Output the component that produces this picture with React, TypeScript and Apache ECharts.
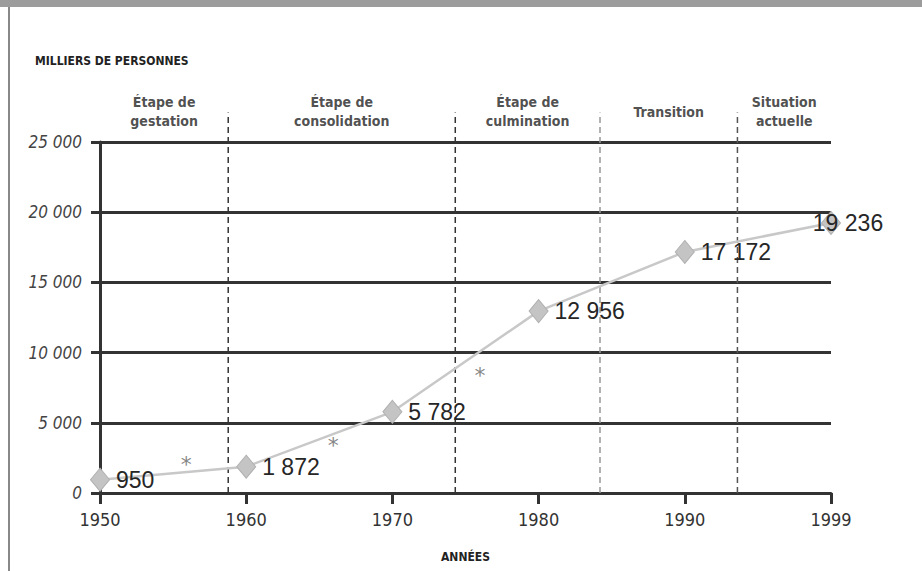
import React, { useEffect, useRef } from "react";
import * as echarts from "echarts";

const years = ["1950", "1960", "1970", "1980", "1990", "1999"];
const persons = [950, 1872, 5782, 12956, 17172, 19236];
// asterisk notes: [x position in year-index units, value]
const asteriskPoints = [
  [0.59, 2000],
  [1.595, 3350],
  [2.6, 8350],
];
// phase boundaries in year-index units
const phaseBounds = [0, 0.877, 2.43, 3.42, 4.36, 5];
const phaseNames = [
  "Étape de\ngestation",
  "Étape de\nconsolidation",
  "Étape de\nculmination",
  "Transition",
  "Situation\nactuelle",
];
const yTicks = [0, 5000, 10000, 15000, 20000, 25000];

const fmt = (v: number) =>
  String(v).replace(/\B(?=(\d{3})+(?!\d))/g, " ");

const COND = "'Liberation Sans Narrow', 'DejaVu Sans Condensed', sans-serif";
const dashColors = ["#333", "#333", "#999", "#555"];

export default function App() {
  const ref = useRef<HTMLDivElement>(null);
  useEffect(() => {
    if (!ref.current) return;
    const chart = echarts.init(ref.current, undefined, { renderer: "svg" });

    const dashSeries = phaseBounds.slice(1, -1).map((x, i) => ({
      type: "line",
      data: [
        [x, 0],
        [x, 27100],
      ],
      symbol: "none",
      clip: false,
      silent: true,
      z: 1,
      lineStyle: { color: dashColors[i], width: 1.5, type: [6, 4] },
    }));

    const phaseData = phaseNames.map((name, i) => ({
      value: [(phaseBounds[i] + phaseBounds[i + 1]) / 2, 27150],
      name,
    }));

    chart.setOption({
      animation: false,
      backgroundColor: "#fff",
      title: {
        text: "MILLIERS DE PERSONNES",
        left: 30,
        top: 50,
        textStyle: {
          fontFamily: COND,
          fontSize: 12,
          fontWeight: "bold",
          color: "#222",
        },
      },
      graphic: [
        {
          type: "rect",
          shape: { x: 0, y: 0, width: 922, height: 7 },
          style: { fill: "#9c9c9c" },
          silent: true,
        },
        {
          type: "line",
          shape: { x1: 9, y1: 7, x2: 9, y2: 571 },
          style: { stroke: "#888", lineWidth: 2 },
          silent: true,
        },
      ],
      grid: { left: 100, right: 91, top: 142, bottom: 78 },
      xAxis: {
        type: "value",
        min: 0,
        max: years.length - 1,
        interval: 1,
        name: "ANNÉES",
        nameLocation: "middle",
        nameGap: 58,
        nameTextStyle: {
          fontFamily: COND,
          fontSize: 12,
          fontWeight: "bold",
          color: "#222",
        },
        axisLine: { show: true, lineStyle: { color: "#333", width: 3 } },
        axisTick: { show: true, length: 11, lineStyle: { color: "#333", width: 3 } },
        splitLine: { show: false },
        axisLabel: {
          formatter: (v: number) => years[Math.round(v)] ?? "",
          fontFamily: COND,
          fontSize: 18,
          color: "#333",
          margin: 17,
        },
      },
      yAxis: {
        type: "value",
        min: 0,
        max: 25000,
        interval: 5000,
        axisLine: { show: true, lineStyle: { color: "#333", width: 3 } },
        axisTick: { show: true, length: 9, lineStyle: { color: "#333", width: 3 } },
        splitLine: { show: true, lineStyle: { color: "#333", width: 3 } },
        axisLabel: {
          formatter: (v: number) => (yTicks.includes(v) ? fmt(v) : ""),
          fontFamily: COND,
          fontStyle: "italic",
          fontSize: 17,
          color: "#444",
          margin: 18,
        },
      },
      series: [
        ...dashSeries,
        {
          type: "line",
          data: persons.map((v, i) => ({
            value: [i, v],
            label:
              i === persons.length - 1
                ? { position: "inside", offset: [17, 0] }
                : undefined,
          })),
          symbol: "diamond",
          symbolSize: [19, 23],
          z: 5,
          lineStyle: { color: "#c8c8c8", width: 2.5 },
          itemStyle: { color: "#c4c4c4", borderColor: "#b0b0b0", borderWidth: 1 },
          label: {
            show: true,
            position: "right",
            distance: 6,
            formatter: (p: any) => fmt(p.value[1]),
            fontFamily: "'Liberation Sans', Arial, sans-serif",
            fontSize: 23,
            color: "#262626",
          },
        },
        {
          type: "scatter",
          data: asteriskPoints,
          symbolSize: 1,
          itemStyle: { color: "transparent" },
          silent: true,
          z: 6,
          label: {
            show: true,
            position: "inside",
            formatter: "*",
            fontFamily: "'DejaVu Sans', sans-serif",
            fontSize: 22,
            color: "#666",
            textBorderWidth: 0,
          },
        },
        {
          type: "scatter",
          data: phaseData,
          symbolSize: 1,
          clip: false,
          itemStyle: { color: "transparent" },
          silent: true,
          z: 6,
          label: {
            show: true,
            position: "inside",
            formatter: (p: any) => p.name,
            fontFamily: COND,
            fontSize: 14,
            fontWeight: "bold",
            lineHeight: 19,
            color: "#222",
            textBorderWidth: 0,
          },
        },
      ],
    });
    return () => chart.dispose();
  }, []);
  return (
    <div
      ref={ref}
      style={{ position: "fixed", left: 0, top: 0, width: 922, height: 571 }}
    />
  );
}
